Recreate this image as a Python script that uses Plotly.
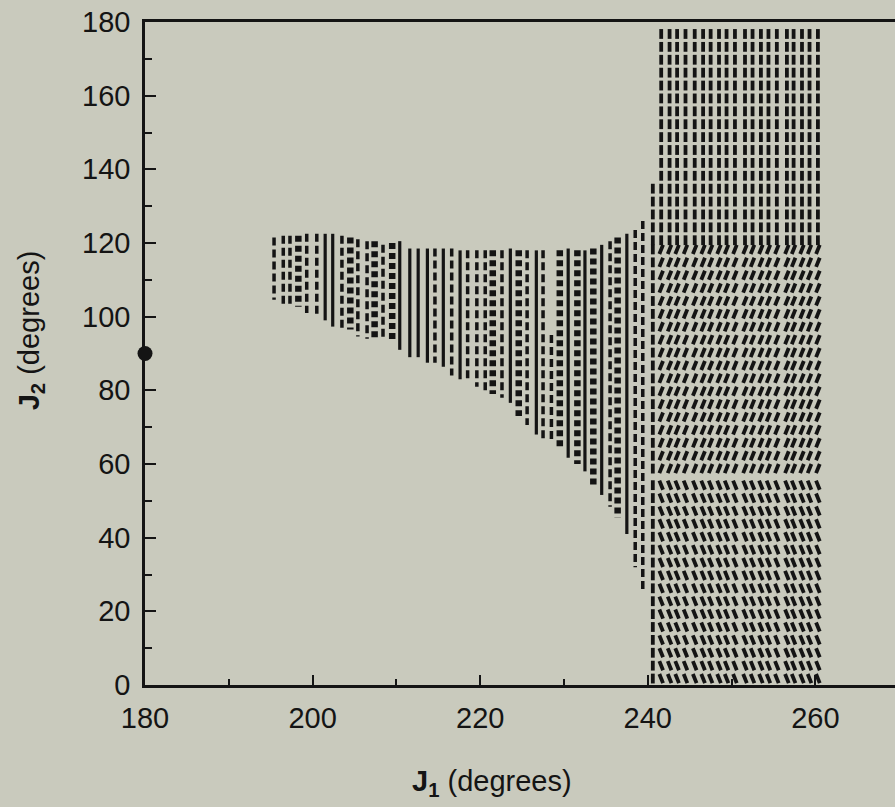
import numpy as np
import plotly.graph_objects as go

# ---------------- data ----------------
# Left fan-shaped region: columns of J1 with their J2 extent and drawing style
A_J1 = [195.4, 196.5, 197.3, 198.3, 199.3, 200.5, 201.5, 202.4, 203.5, 204.5,
        205.4, 206.5, 207.4, 208.4, 209.5, 210.4, 211.6, 212.6, 213.7, 214.6,
        215.6, 216.6, 217.6, 218.5, 219.6, 220.6, 221.5, 222.6, 223.6, 224.6,
        225.6, 226.7, 227.5, 228.5, 229.5, 230.5, 231.6, 232.5, 233.5, 234.5,
        235.5, 236.4, 237.5, 238.5, 239.4]
A_TOP = [121.5, 122, 122, 122, 122.5, 122.5, 122.5, 122.5, 122, 121.5,
         121, 120.5, 120.5, 119.5, 120, 120.5, 118.5, 118.5, 118.5, 118.5,
         118.5, 118.5, 118, 118, 118, 118, 118, 118, 118.5, 118,
         118, 118, 118, 95, 118, 118.5, 118, 118, 118.5, 119.5,
         120.5, 121.5, 122.5, 123.5, 126]
A_BOT = [104.6, 103, 103, 102.7, 101, 100.5, 99, 97.3, 97, 96.5,
         94.6, 94, 94, 94.5, 93.7, 91, 89, 89, 87.5, 87.5,
         86.4, 84, 83, 82.8, 81, 80, 79, 78, 76.6, 73,
         70.6, 68, 67, 66, 64, 61.7, 60, 58, 54, 51.6,
         48.4, 45.4, 41, 32, 25]
A_STYLE = ["dash", "dash", "dash", "dot", "dash", "dash", "solid", "solid", "dash", "dot",
           "dash", "dash", "dot", "dash", "dot", "solid", "solid", "solid", "solid", "dash",
           "solid", "dash", "solid", "dash", "dash", "dash", "dot", "dash", "solid", "dot",
           "dash", "solid", "dash", "dash", "dot", "solid", "dot", "solid", "dot", "solid",
           "dash", "dot", "solid", "dash", "dash"]

# Right rectangular region: columns of J1 spanning J2 from bottom to top
B_J1 = [240.6, 241.6, 242.6, 243.5, 244.5, 245.6, 246.6, 247.5, 248.5, 249.4,
        250.4, 251.6, 252.5, 253.5, 254.4, 255.4, 256.6, 257.4, 258.4, 259.3, 260.3]
B_TOP = [135] + [177.5] * 20
B_BOT = [0] * 21
# J2 bands of the right region and the tilt of their dashes (deg, 0 = vertical)
B_BAND_LO = [0, 57, 119]
B_BAND_HI = [57, 119, 177.5]
B_BAND_TILT = [-22, 22, 0]

DOT_J1 = [180]
DOT_J2 = [90]

X_TICKS = [180, 200, 220, 240, 260]
Y_TICKS = [0, 20, 40, 60, 80, 100, 120, 140, 160, 180]

# ---------------- styles ----------------
INK = "#141414"
BG = "rgb(201,202,189)"
STYLES = {
    "dash": dict(color=INK, width=3.5, dash="8px,4px"),
    "solid": dict(color=INK, width=3.2),
    "dot": dict(color=INK, width=6.5, dash="6px,4px"),
}
PITCH = 3.5  # J2 spacing of dash glyphs in the right region

fig = go.Figure()

# Left region, grouped per style
for style, lstyle in STYLES.items():
    xs, ys = [], []
    for x, t, b, s in zip(A_J1, A_TOP, A_BOT, A_STYLE):
        if s == style:
            xs += [x, x, None]
            ys += [t, b, None]
    fig.add_trace(go.Scatter(x=xs, y=ys, mode="lines", line=lstyle,
                             hoverinfo="skip", showlegend=False))

# Right region: dash glyphs
for k, (x, t, b) in enumerate(zip(B_J1, B_TOP, B_BOT)):
    for lo, hi, tilt in zip(B_BAND_LO, B_BAND_HI, B_BAND_TILT):
        lo2, hi2 = max(lo, b), min(hi, t)
        if hi2 <= lo2:
            continue
        yy = np.arange(lo2 + PITCH / 2, hi2, PITCH)
        ang = 0 if k == 0 else tilt
        fig.add_trace(go.Scatter(
            x=[x] * len(yy), y=yy, mode="markers",
            marker=dict(symbol="line-ns", size=7, angle=ang,
                        line=dict(color=INK, width=3.8)),
            hoverinfo="skip", showlegend=False, cliponaxis=True))

# Dot on the axis
fig.add_trace(go.Scatter(x=DOT_J1, y=DOT_J2, mode="markers",
                         marker=dict(size=15, color=INK),
                         cliponaxis=False, hoverinfo="skip", showlegend=False))

FONT = dict(family="Liberation Sans, Arial, sans-serif", size=29, color=INK)

fig.update_layout(
    width=895, height=807,
    margin=dict(l=145, r=0, t=22, b=122),
    paper_bgcolor=BG, plot_bgcolor=BG,
    font=FONT,
    xaxis=dict(range=[180, 269.5], showgrid=False, zeroline=False,
               showline=True, linecolor=INK, linewidth=2.5, mirror=True,
               tickvals=X_TICKS, ticktext=[str(v) for v in X_TICKS],
               ticks="inside", ticklen=10, tickwidth=2, tickcolor=INK,
               ticklabelstandoff=5,
               minor=dict(ticks="inside", ticklen=6, tickwidth=2, tickcolor=INK,
                          dtick=10, tick0=180)),
    yaxis=dict(range=[0, 180], showgrid=False, zeroline=False,
               showline=True, linecolor=INK, linewidth=2.5,
               tickvals=Y_TICKS, ticktext=[str(v) for v in Y_TICKS],
               ticks="inside", ticklen=11, tickwidth=2, tickcolor=INK,
               ticklabelstandoff=6,
               minor=dict(ticks="inside", ticklen=7, tickwidth=2, tickcolor=INK,
                          dtick=10, tick0=0)),
    annotations=[
        dict(text="<b>J</b><sub><b>1</b></sub> (degrees)", xref="paper", yref="paper",
             x=0.463, y=-0.148, showarrow=False, font=FONT,
             xanchor="center", yanchor="middle"),
        dict(text="<b>J</b><sub><b>2</b></sub> (degrees)", xref="paper", yref="paper",
             x=-0.152, y=0.535, showarrow=False, font=FONT, textangle=-90,
             xanchor="center", yanchor="middle"),
    ],
)

fig.write_html("out.html")
